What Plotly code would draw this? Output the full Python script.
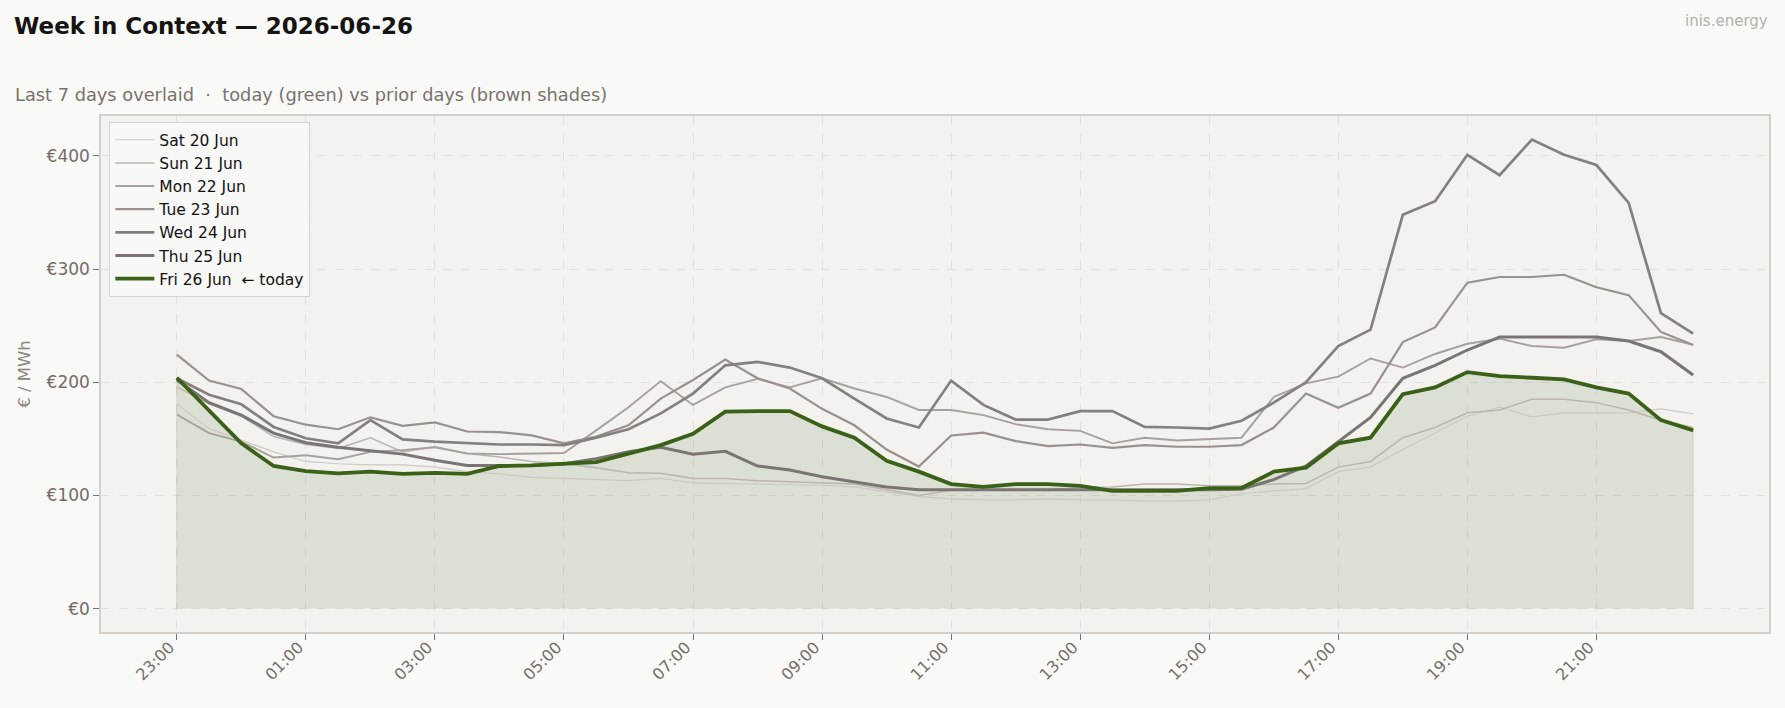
import plotly.graph_objects as go

times = ["23:00", "23:30", "00:00", "00:30", "01:00", "01:30", "02:00", "02:30",
         "03:00", "03:30", "04:00", "04:30", "05:00", "05:30", "06:00", "06:30",
         "07:00", "07:30", "08:00", "08:30", "09:00", "09:30", "10:00", "10:30",
         "11:00", "11:30", "12:00", "12:30", "13:00", "13:30", "14:00", "14:30",
         "15:00", "15:30", "16:00", "16:30", "17:00", "17:30", "18:00", "18:30",
         "19:00", "19:30", "20:00", "20:30", "21:00", "21:30", "22:00", "22:30"]

tick_labels = ["23:00", "01:00", "03:00", "05:00", "07:00", "09:00",
               "11:00", "13:00", "15:00", "17:00", "19:00", "21:00"]

y_ticks = [0, 100, 200, 300, 400]
y_tick_labels = ["€0", "€100", "€200", "€300", "€400"]

day_names = ["Sat 20 Jun", "Sun 21 Jun", "Mon 22 Jun", "Tue 23 Jun",
             "Wed 24 Jun", "Thu 25 Jun", "Fri 26 Jun\u00a0\u00a0← today"]

sat = [181, 159, 149, 138.5, 130, 128, 127, 127, 125, 121, 119, 116, 115, 114, 113, 115,
       111, 110.5, 110, 109.5, 109, 107.5, 103, 99, 97, 96, 96, 97, 96, 96, 95, 95,
       96, 101.5, 104, 106, 121, 125, 140.5, 155, 170, 178, 169.5, 173, 173, 173, 176.5, 172]
sun = [196, 181, 170, 152, 145, 141.5, 151, 138.5, 143, 137, 134, 130, 128, 124.5, 120, 119.5,
       115, 115, 113, 112, 111, 110, 105, 100, 104.5, 104.5, 104.5, 105, 107, 107.5, 110, 110,
       108.5, 108.5, 110, 110.5, 125, 130, 151, 160, 173, 175.5, 185, 185, 182, 175.5, 166.5, 160]
mon = [171.5, 155, 147.5, 133.5, 135.5, 132, 138.5, 140, 142.5, 137, 136.5, 137, 137.5, 157.5, 178, 201,
       180, 195.5, 203, 195.5, 203.5, 194.5, 187, 175.5, 175.5, 171, 163, 158.5, 157, 146, 151, 148.5,
       150, 151, 187, 199, 205, 221, 213, 225, 234, 238.5, 232, 230.5, 238, 236.5, 240, 233]
tue = [224.5, 201.5, 194, 170, 162.5, 158.5, 169, 161.5, 164.5, 156.5, 156, 153, 146, 152, 162, 185.5,
       202, 220, 203.5, 194.5, 176.5, 162, 140.5, 125.5, 153, 155.5, 148, 143.5, 145, 142, 144.5, 143,
       143, 144.5, 160, 190, 177.5, 190, 235.5, 248.5, 288, 293, 293, 295, 284, 277, 244.5, 233]
wed = [203.5, 189, 180.5, 160.5, 150.5, 146, 166.5, 149.5, 147.5, 146, 145, 145, 144.5, 151, 158.5, 172.5,
       190, 215, 218, 213, 203.5, 185.5, 168, 160, 201.5, 180, 167, 167, 174.5, 174.5, 160.5, 160,
       159, 166, 182, 200, 232, 246.5, 348, 360, 401, 383, 414.5, 401, 392, 358.5, 261, 243]
thu = [202, 182, 171, 155, 146.5, 142.5, 139.5, 136.5, 131, 126.5, 126.5, 126.5, 128, 132.5, 138.5, 142.5,
       136.5, 139, 126, 122.5, 116.5, 112, 107.5, 105, 105, 105, 105, 105, 105, 104.5, 104.5, 104.5,
       105, 105.5, 114, 126, 147.5, 169, 203.5, 215, 228.5, 240, 240, 240, 240, 236.5, 227, 206.5]
fri = [204, 175, 146, 126, 121.5, 119.5, 121, 119, 120, 119, 126, 126.5, 128, 129.5, 137, 144.5,
       154.5, 174, 174.5, 174.5, 161, 151, 130.5, 121, 110, 107.5, 110, 110, 108.5, 104, 104, 104,
       106.5, 106.5, 121, 124.5, 146, 151, 189.5, 195.5, 209, 205.5, 204, 202.5, 195.5, 190, 166.5, 157.5]

prior_series = [sat, sun, mon, tue, wed, thu]
prior_colors = ["#cdc8c3", "#bbb4af", "#a9a09c", "#9a918d", "#86807d", "#7a7472"]
prior_widths = [1.2, 1.5, 1.9, 2.2, 2.7, 3.0]
today_color = "#3a6118"

FONT = "DejaVu Sans"
TXT = "#746d67"

fig = go.Figure()

# shaded area under today's curve
fig.add_trace(go.Scatter(
    x=[times[0]] + times + [times[-1]],
    y=[0] + fri + [0],
    fill="toself", mode="lines",
    fillcolor="rgba(59,97,24,0.12)",
    line=dict(color="rgba(59,97,24,0.14)", width=1),
    showlegend=False, hoverinfo="skip",
))

for name, vals, col, w in zip(day_names[:6], prior_series, prior_colors, prior_widths):
    fig.add_trace(go.Scatter(x=times, y=vals, mode="lines", name=name,
                             line=dict(color=col, width=w)))

fig.add_trace(go.Scatter(x=times, y=fri, mode="lines", name=day_names[6],
                         line=dict(color=today_color, width=3.8)))

fig.update_layout(
    width=1785, height=708,
    margin=dict(l=101, r=16, t=116, b=76),
    paper_bgcolor="#f9f9f7",
    plot_bgcolor="#f3f2ee",
    font=dict(family=FONT, size=16, color=TXT),
    title=dict(text="<b>Week in Context — 2026-06-26</b>",
               xref="container", yref="container", x=14 / 1785, xanchor="left",
               y=1 - 26 / 708, yanchor="middle",
               font=dict(family=FONT, size=23, color="#161412")),
    showlegend=True,
    legend=dict(x=0.005, y=0.988, xanchor="left", yanchor="top",
                bgcolor="rgba(249,248,246,0.92)", bordercolor="#d8d3cd", borderwidth=1,
                font=dict(family=FONT, size=15.5, color="#111111"),
                itemwidth=39, tracegroupgap=0),
    annotations=[
        dict(text="Last 7 days overlaid\u00a0\u00a0·\u00a0\u00a0today (green) vs prior days (brown shades)",
             xref="paper", yref="paper", x=(13 - 101) / 1668, y=1 + (116 - 95) / 516,
             xanchor="left", yanchor="middle", showarrow=False,
             font=dict(family=FONT, size=17.8, color="#79726c")),
        dict(text="inis.energy", xref="paper", yref="paper",
             x=1 + (1770 - 1769) / 1668, y=1 + (116 - 21) / 516,
             xanchor="right", yanchor="middle", showarrow=False,
             font=dict(family=FONT, size=15, color="#b5b1ad")),
    ],
    hovermode=False,
)

fig.update_xaxes(
    type="category", range=[-2.35, 49.35],
    tickmode="array", tickvals=tick_labels, ticktext=tick_labels,
    tickangle=-45, tickfont=dict(size=16, color=TXT),
    ticklabelshift=-7, ticklabelstandoff=-8,
    ticks="outside", ticklen=6, tickwidth=1.2, tickcolor="#7a736e",
    showgrid=True, gridcolor="#e3e0db", griddash="dash", gridwidth=1,
    showline=True, linecolor="#d3cec8", linewidth=1.5, mirror=True,
    zeroline=False,
)
fig.update_yaxes(
    range=[-20.7, 435.3],
    tickmode="array", tickvals=y_ticks, ticktext=y_tick_labels,
    tickfont=dict(size=17, color=TXT),
    ticks="outside", ticklen=6, tickwidth=1.2, tickcolor="#7a736e",
    showgrid=True, gridcolor="#e3e0db", griddash="dash", gridwidth=1,
    showline=True, linecolor="#d3cec8", linewidth=1.5, mirror=True,
    zeroline=False,
    title=dict(text="€ / MWh", font=dict(size=16.5, color="#8a837e"), standoff=12),
)

fig.write_html("out.html")
